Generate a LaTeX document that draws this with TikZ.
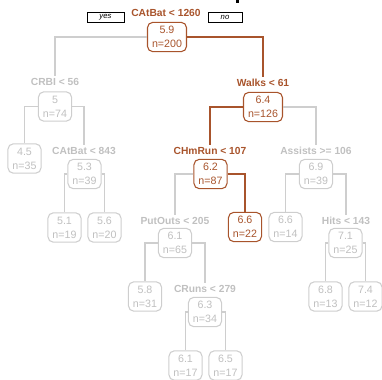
\documentclass[tikz,border=0pt]{standalone}
\usepackage{fontspec}
\setmainfont{Liberation Sans}
\definecolor{pathc}{RGB}{168,84,44}
\definecolor{offtext}{RGB}{192,192,192}
\definecolor{offline}{RGB}{206,206,206}
\begin{document}
\begin{tikzpicture}[x=0.75pt,y=-0.75pt,
  split/.style={font=\bfseries\fontsize{7.7}{8}\selectfont, inner sep=1.5pt},
  onsplit/.style={split, text=pathc},
  offsplit/.style={split, text=offtext},
  box/.style={rounded corners=4pt, align=center, inner xsep=3.4pt, inner ysep=1pt,
    minimum height=22pt, font=\fontsize{8}{10.5}\selectfont, fill=white, line width=0.8pt},
  onbox/.style={box, draw=pathc, text=pathc},
  offbox/.style={box, draw=offline, text=offtext},
  onedge/.style={draw=pathc, line width=0.8pt},
  offedge/.style={draw=offline, line width=1.1pt},
  tag/.style={draw=black, fill=white, line width=0.5pt, minimum height=7.5pt,
    inner sep=0pt, font=\itshape\fontsize{5.8}{6}\selectfont}]
\useasboundingbox (0,0) rectangle (382,379);
\fill[black] (236,0) rectangle (239,2.5);

% split labels
\node[onsplit]  (sRoot)    at (166,13)  {CAtBat < 1260};
\node[offsplit] (sCRBI)    at (55,82)   {CRBI < 56};
\node[offsplit] (sCAtBat)  at (84,151)  {CAtBat < 843};
\node[onsplit]  (sWalks)   at (263,83)  {Walks < 61};
\node[onsplit]  (sCHmRun)  at (210,151) {CHmRun < 107};
\node[offsplit] (sAssists) at (316,151) {Assists >= 106};
\node[offsplit] (sPutOuts) at (175,221) {PutOuts < 205};
\node[offsplit] (sHits)    at (346,221) {Hits < 143};
\node[offsplit] (sCRuns)   at (205,289) {CRuns < 279};

\node[tag, minimum width=27.75pt] (yes) at (105.5,17) {yes};
\node[tag, minimum width=25.5pt]  (no)  at (225,17)   {no};

% fitted-value boxes
\node[onbox]  (root)    at (167,37)    {5.9\\n=200};
\node[offbox] (crbi)    at (55,106.5)  {5\\n=74};
\node[offbox] (l45)     at (24.5,158.5){4.5\\n=35};
\node[offbox] (catbat)  at (84.5,174)  {5.3\\n=39};
\node[offbox] (l51)     at (64.5,227.5){5.1\\n=19};
\node[offbox] (l56)     at (104.5,227.5){5.6\\n=20};
\node[onbox]  (walks)   at (263,107)   {6.4\\n=126};
\node[onbox]  (chmrun)  at (210.5,174) {6.2\\n=87};
\node[offbox] (assists) at (316,174)   {6.9\\n=39};
\node[onbox]  (l66a)    at (245,227)   {6.6\\n=22};
\node[offbox] (l66b)    at (285.5,227) {6.6\\n=14};
\node[offbox] (putouts) at (175,243)   {6.1\\n=65};
\node[offbox] (hits)    at (345.5,243) {7.1\\n=25};
\node[offbox] (l58)     at (145,296.5) {5.8\\n=31};
\node[offbox] (cruns)   at (205,312)   {6.3\\n=34};
\node[offbox] (l68)     at (325.5,296.5){6.8\\n=13};
\node[offbox] (l74)     at (365.5,296.5){7.4\\n=12};
\node[offbox] (l61)     at (185.5,365.5){6.1\\n=17};
\node[offbox] (l65)     at (225.5,365.5){6.5\\n=17};

% branches
\draw[offedge] (root.west) -| (sCRBI.north);
\draw[onedge]  (root.east) -| (sWalks.north);
\draw[offedge] (crbi.west) -| (l45.north);
\draw[offedge] (crbi.east) -| (sCAtBat.north);
\draw[offedge] (catbat.west) -| (l51.north);
\draw[offedge] (catbat.east) -| (l56.north);
\draw[onedge]  (walks.west) -| (sCHmRun.north);
\draw[offedge] (walks.east) -| (sAssists.north);
\draw[offedge] (chmrun.west) -| (sPutOuts.north);
\draw[onedge]  (chmrun.east) -| (l66a.north);
\draw[offedge] (assists.west) -| (l66b.north);
\draw[offedge] (assists.east) -| (sHits.north);
\draw[offedge] (putouts.west) -| (l58.north);
\draw[offedge] (putouts.east) -| (sCRuns.north);
\draw[offedge] (hits.west) -| (l68.north);
\draw[offedge] (hits.east) -| (l74.north);
\draw[offedge] (cruns.west) -| (l61.north);
\draw[offedge] (cruns.east) -| (l65.north);
\end{tikzpicture}
\end{document}
